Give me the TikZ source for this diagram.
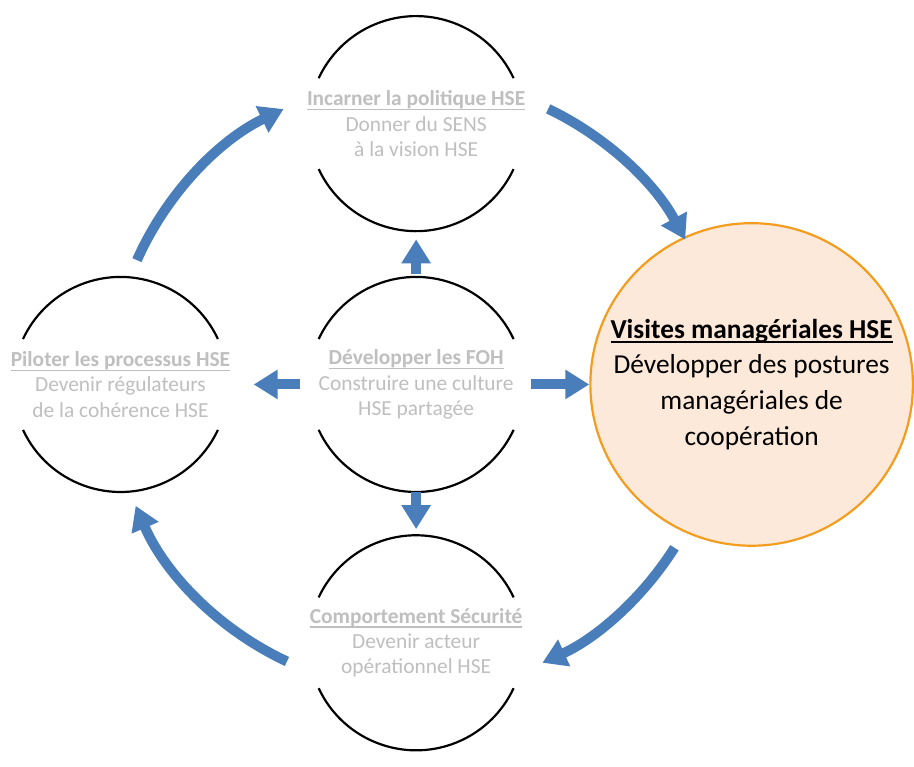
\documentclass[tikz,border=0pt]{standalone}
\usepackage{fontspec}
\setmainfont{Carlito}
\usetikzlibrary{arrows.meta}
\definecolor{arrowblue}{HTML}{4A7EBB}
\definecolor{txtgray}{HTML}{BFBFBF}
\definecolor{peach}{HTML}{FDE9D9}
\definecolor{orangeline}{HTML}{F39C1E}
\newcommand\ulttl[1]{\leavevmode\setbox0\hbox{\textbf{#1}}\rlap{\rule[-4.5pt]{\wd0}{1.3pt}}\box0}
\begin{document}
\begin{tikzpicture}[x=1pt,y=1pt,
  blob/.style={circle,minimum size=216pt,inner sep=0pt,align=center,text=txtgray,font=\fontsize{21.5}{25.5}\selectfont},
  ring/.style={black,line width=2.2pt},
  arr/.style={arrowblue,line width=10pt,-{Triangle[width=28pt,length=24pt]}},
]
\fill[white] (0,0) rectangle (914,751);
\node[blob] (top) at (418,632.5) {\ulttl{Incarner la politique HSE}\\Donner du SENS\\à la vision HSE};
\node[blob] (mid) at (418,370.5) {\ulttl{Développer les FOH}\\Construire une culture\\HSE partagée};
\node[blob] (left) at (121,370.5) {\ulttl{Piloter les processus HSE}\\Devenir régulateurs\\de la cohérence HSE};
\node[blob] (bot) at (418,111) {\ulttl{Comportement Sécurité}\\Devenir acteur\\opérationnel HSE};
\foreach \n in {top,mid,left,bot} {
  \draw[ring] ([shift={(25:108)}]\n.center) arc[start angle=25,end angle=155,radius=108];
  \draw[ring] ([shift={(205:108)}]\n.center) arc[start angle=205,end angle=335,radius=108];
}
\node[circle,minimum size=324pt,inner sep=0pt,fill=peach,draw=orangeline,line width=2.2pt,align=center,text=black,font=\fontsize{27.5}{36}\selectfont] (vis) at (755,370.5) {\ulttl{Visites managériales HSE}\\Développer des postures\\managériales de\\coopération};
% straight arrows
\draw[arr] ([yshift=3pt]mid.north) -- ([yshift=-2pt]top.south);
\draw[arr] (mid.south) -- ([yshift=2pt]bot.north);
\draw[arr] ([xshift=-8pt]mid.west) -- ([xshift=19pt]left.east);
\draw[arr] ([xshift=7pt]mid.east) -- (vis.west);
% curved arrows around the cycle
\draw[arr] ([shift={(156:307)}]mid.center) arc[start angle=156,end angle=115.7,radius=307];
\draw[arr] ([shift={(64.4:307)}]mid.center) arc[start angle=64.4,end angle=28.3,radius=307];
\draw[arr] ([shift={(-32.3:307)}]mid.center) arc[start angle=-32.3,end angle=-65.6,radius=307];
\draw[arr] ([shift={(-115:307)}]mid.center) arc[start angle=-115,end angle=-156.6,radius=307];
\end{tikzpicture}
\end{document}
